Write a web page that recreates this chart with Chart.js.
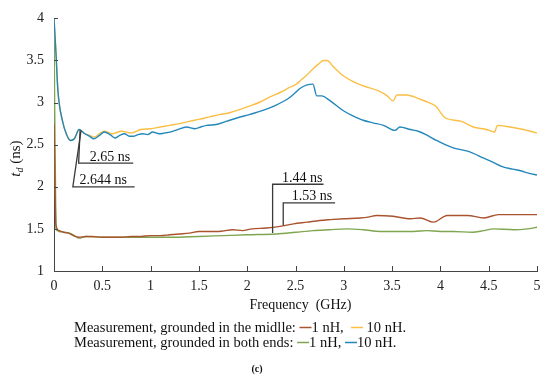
<!DOCTYPE html>
<html>
<head>
<meta charset="utf-8">
<script src="https://cdn.jsdelivr.net/npm/chart.js@4.4.1/dist/chart.umd.min.js"></script>
<style>
  html, body { margin: 0; padding: 0; background: #fff; }
  #wrap { width: 550px; height: 378px; }
</style>
</head>
<body>
<div id="wrap"><canvas id="chart" width="550" height="378"></canvas></div>
<script>
// tick values
const xTicks = [0, 0.5, 1, 1.5, 2, 2.5, 3, 3.5, 4, 4.5, 5];
const yTicks = [1, 1.5, 2, 2.5, 3, 3.5, 4];

// grounded in the middle, 1 nH
const midFreq1 = [0, 0.02, 0.05, 0.1, 0.15, 0.2, 0.26, 0.33, 0.4, 0.5, 0.6, 0.7, 0.8, 0.9, 1.0, 1.1, 1.2, 1.3, 1.4, 1.5, 1.6, 1.7, 1.85, 1.95, 2.05, 2.2, 2.34, 2.48, 2.62, 2.75, 2.86, 3.0, 3.17, 3.25, 3.34, 3.51, 3.69, 3.79, 3.93, 4.07, 4.28, 4.45, 4.6, 4.8, 5.0];
const mid1nH = [2.75, 1.55, 1.48, 1.46, 1.45, 1.42, 1.4, 1.41, 1.41, 1.4, 1.4, 1.4, 1.41, 1.41, 1.42, 1.42, 1.43, 1.44, 1.45, 1.47, 1.47, 1.47, 1.49, 1.48, 1.5, 1.51, 1.53, 1.56, 1.58, 1.6, 1.61, 1.62, 1.63, 1.64, 1.66, 1.65, 1.62, 1.63, 1.58, 1.66, 1.66, 1.63, 1.67, 1.67, 1.67];

// grounded in the middle, 10 nH
const midFreq10 = [0, 0.02, 0.04, 0.09, 0.13, 0.17, 0.21, 0.26, 0.32, 0.37, 0.42, 0.47, 0.52, 0.6, 0.7, 0.8, 0.9, 1.0, 1.1, 1.2, 1.3, 1.41, 1.5, 1.61, 1.72, 1.82, 1.93, 2.03, 2.14, 2.24, 2.34, 2.44, 2.51, 2.55, 2.62, 2.68, 2.74, 2.79, 2.83, 2.88, 2.98, 3.13, 3.25, 3.36, 3.45, 3.51, 3.55, 3.65, 3.79, 3.88, 3.95, 4.05, 4.21, 4.34, 4.48, 4.56, 4.59, 4.72, 4.86, 5.0];
const mid10nH = [4.0, 3.6, 3.15, 2.77, 2.62, 2.55, 2.57, 2.68, 2.63, 2.61, 2.59, 2.63, 2.66, 2.63, 2.66, 2.64, 2.68, 2.69, 2.71, 2.73, 2.75, 2.78, 2.8, 2.83, 2.86, 2.88, 2.92, 2.96, 3.01, 3.07, 3.12, 3.18, 3.22, 3.26, 3.33, 3.4, 3.46, 3.5, 3.5, 3.44, 3.33, 3.23, 3.18, 3.14, 3.08, 3.02, 3.09, 3.09, 3.04, 3.0, 2.96, 2.82, 2.78, 2.71, 2.68, 2.65, 2.73, 2.71, 2.68, 2.64];

// grounded in both ends, 1 nH
const endFreq1 = [0, 0.02, 0.05, 0.1, 0.16, 0.21, 0.26, 0.33, 0.5, 0.7, 1.0, 1.2, 1.5, 1.75, 2.0, 2.3, 2.5, 2.68, 2.85, 3.03, 3.2, 3.38, 3.55, 3.72, 3.86, 4.0, 4.13, 4.33, 4.45, 4.55, 4.76, 4.9, 5.0];
const end1nH = [4.0, 1.5, 1.47, 1.46, 1.45, 1.42, 1.39, 1.41, 1.4, 1.4, 1.4, 1.4, 1.41, 1.42, 1.43, 1.44, 1.46, 1.48, 1.49, 1.5, 1.49, 1.47, 1.47, 1.47, 1.48, 1.47, 1.47, 1.46, 1.48, 1.5, 1.49, 1.5, 1.52];

// grounded in both ends, 10 nH
const endFreq10 = [0, 0.02, 0.04, 0.09, 0.13, 0.17, 0.21, 0.26, 0.32, 0.37, 0.41, 0.47, 0.52, 0.58, 0.63, 0.68, 0.73, 0.78, 0.82, 0.87, 0.92, 0.97, 1.02, 1.09, 1.15, 1.2, 1.28, 1.37, 1.46, 1.52, 1.58, 1.68, 1.79, 1.9, 2.03, 2.17, 2.3, 2.44, 2.5, 2.55, 2.62, 2.68, 2.72, 2.77, 2.86, 3.0, 3.1, 3.2, 3.3, 3.41, 3.53, 3.58, 3.69, 3.77, 3.85, 3.96, 4.05, 4.14, 4.29, 4.45, 4.53, 4.64, 4.75, 4.83, 4.92, 5.0];
const end10nH = [4.0, 3.6, 3.15, 2.77, 2.62, 2.55, 2.57, 2.68, 2.63, 2.6, 2.57, 2.61, 2.65, 2.62, 2.58, 2.61, 2.63, 2.6, 2.6, 2.62, 2.63, 2.62, 2.65, 2.63, 2.64, 2.65, 2.68, 2.71, 2.69, 2.71, 2.73, 2.74, 2.78, 2.82, 2.86, 2.91, 2.97, 3.06, 3.12, 3.17, 3.21, 3.22, 3.08, 3.08, 3.02, 2.9, 2.84, 2.79, 2.76, 2.73, 2.67, 2.71, 2.68, 2.66, 2.62, 2.55, 2.5, 2.46, 2.42, 2.34, 2.3, 2.24, 2.21, 2.19, 2.16, 2.14];

// callouts: leader points in data units (freq, ns) and label start
const callouts = [
  { text: "2.65 ns", path: [[0.27, 2.67], [0.255, 2.28], [0.82, 2.28]], label: [0.37, 2.31] },
  { text: "2.644 ns", path: [[0.28, 2.67], [0.195, 2.0], [0.835, 2.0]], label: [0.265, 2.03] },
  { text: "1.44 ns", path: [[2.263, 1.45], [2.263, 2.03], [2.79, 2.03]], label: [2.36, 2.06] },
  { text: "1.53 ns", path: [[2.373, 1.54], [2.373, 1.81], [2.91, 1.81]], label: [2.46, 1.84] }
];

const colMid1 = "#a9532f";
const colMid10 = "#fbbf45";
const colEnd1 = "#7ea650";
const colEnd10 = "#2387bb";
const serif = "'Liberation Serif', 'Times New Roman', serif";

function toPoints(xs, ys) {
  return xs.map((x, i) => ({ x: x, y: ys[i] }));
}

function makeSet(label, xs, ys, color, order) {
  return {
    label: label,
    data: toPoints(xs, ys),
    borderColor: color,
    borderWidth: 1.4,
    pointRadius: 0,
    cubicInterpolationMode: "monotone",
    fill: false,
    order: order
  };
}

// inward tick marks, callouts, titles and the text legend
const extras = {
  id: "extras",
  afterDraw(chart) {
    const ctx = chart.ctx;
    const xs = chart.scales.x;
    const ys = chart.scales.y;
    const area = chart.chartArea;
    ctx.save();

    ctx.strokeStyle = "#444";
    ctx.lineWidth = 1;
    xTicks.forEach((t) => {
      const px = Math.round(xs.getPixelForValue(t)) + 0.5;
      ctx.beginPath();
      ctx.moveTo(px, area.bottom);
      ctx.lineTo(px, area.bottom - 5);
      ctx.stroke();
    });
    yTicks.forEach((t) => {
      const py = Math.round(ys.getPixelForValue(t)) + 0.5;
      ctx.beginPath();
      ctx.moveTo(area.left, py);
      ctx.lineTo(area.left + 4, py);
      ctx.stroke();
    });

    // callouts
    ctx.strokeStyle = "#3a3a3a";
    ctx.lineWidth = 1.3;
    ctx.fillStyle = "#111";
    ctx.font = "14px " + serif;
    ctx.textBaseline = "alphabetic";
    ctx.textAlign = "left";
    callouts.forEach((c) => {
      ctx.beginPath();
      c.path.forEach((p, i) => {
        const px = xs.getPixelForValue(p[0]);
        const py = ys.getPixelForValue(p[1]);
        if (i === 0) ctx.moveTo(px, py);
        else ctx.lineTo(px, py);
      });
      ctx.stroke();
      ctx.fillText(c.text, xs.getPixelForValue(c.label[0]), ys.getPixelForValue(c.label[1]));
    });

    // x title
    ctx.font = "14px " + serif;
    ctx.textAlign = "center";
    ctx.fillText("Frequency  (GHz)", (area.left + area.right) / 2 + 5, 309);

    // y title: t_d (ns)
    ctx.save();
    ctx.translate(20, (area.top + area.bottom) / 2 + 10);
    ctx.rotate(-Math.PI / 2);
    ctx.textAlign = "left";
    ctx.font = "italic 15px " + serif;
    const tW = ctx.measureText("t").width;
    ctx.fillText("t", -22, 0);
    ctx.font = "italic 10px " + serif;
    ctx.fillText("d", -22 + tW, 3);
    const dW = ctx.measureText("d").width;
    ctx.font = "15px " + serif;
    ctx.fillText(" (ns)", -22 + tW + dW, 0);
    ctx.restore();

    // legend lines
    ctx.font = "14.5px " + serif;
    ctx.textAlign = "left";
    const rows = [
      { y: 332, parts: ["Measurement, grounded in the midlle: ", colMid1, "1 nH,  ", colMid10, " 10 nH."] },
      { y: 347, parts: ["Measurement, grounded in both ends: ", colEnd1, "1 nH, ", colEnd10, "10 nH."] }
    ];
    rows.forEach((row) => {
      let x = 74;
      row.parts.forEach((p) => {
        if (p.startsWith("#")) {
          ctx.strokeStyle = p;
          ctx.lineWidth = 1.5;
          ctx.beginPath();
          ctx.moveTo(x, row.y - 4.5);
          ctx.lineTo(x + 12, row.y - 4.5);
          ctx.stroke();
          x += 12;
        } else {
          ctx.fillText(p, x, row.y);
          x += ctx.measureText(p).width;
        }
      });
    });

    ctx.font = "bold 10px " + serif;
    ctx.textAlign = "center";
    ctx.fillText("(c)", 257, 372);
    ctx.restore();
  }
};

new Chart(document.getElementById("chart"), {
  type: "line",
  data: {
    datasets: [
      makeSet("grounded in both ends, 10 nH", endFreq10, end10nH, colEnd10, 1),
      makeSet("grounded in the middle, 10 nH", midFreq10, mid10nH, colMid10, 2),
      makeSet("grounded in both ends, 1 nH", endFreq1, end1nH, colEnd1, 4),
      makeSet("grounded in the middle, 1 nH", midFreq1, mid1nH, colMid1, 3)
    ]
  },
  options: {
    responsive: false,
    animation: false,
    devicePixelRatio: 1,
    layout: { padding: { top: 12, right: 13, left: 0, bottom: 0 } },
    plugins: { legend: { display: false }, tooltip: { enabled: false } },
    scales: {
      x: {
        type: "linear",
        min: 0,
        max: 5,
        afterFit: (s) => { s.height = 107; },
        afterBuildTicks: (s) => { s.ticks = xTicks.map((v) => ({ value: v })); },
        ticks: { font: { family: serif, size: 14 }, color: "#222", padding: 7, maxRotation: 0, callback: (v) => String(v) },
        grid: { drawOnChartArea: false, drawTicks: false },
        border: { display: true, color: "#444", width: 1 }
      },
      y: {
        min: 1,
        max: 4,
        afterFit: (s) => { s.width = 54; },
        afterBuildTicks: (s) => { s.ticks = yTicks.map((v) => ({ value: v })); },
        ticks: { font: { family: serif, size: 14 }, color: "#222", padding: 10, callback: (v) => String(v) },
        grid: { drawOnChartArea: false, drawTicks: false },
        border: { display: true, color: "#444", width: 1 }
      }
    }
  },
  plugins: [extras]
});
</script>
</body>
</html>
